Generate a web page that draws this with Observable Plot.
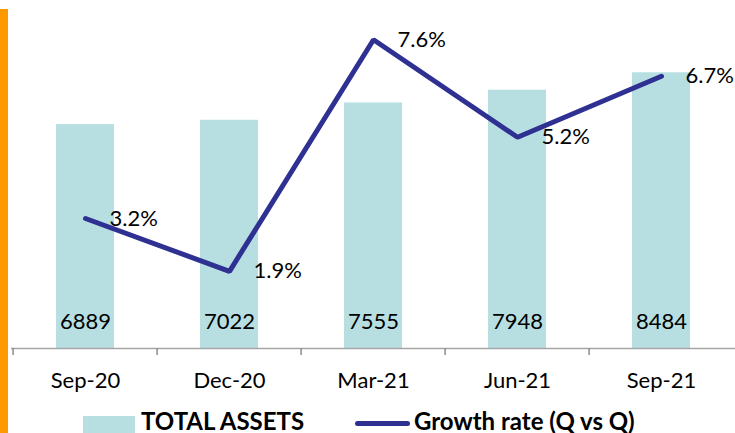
<!DOCTYPE html>
<html>
<head>
<meta charset="utf-8">
<script src="https://cdn.jsdelivr.net/npm/d3@7"></script>
<script src="https://cdn.jsdelivr.net/npm/@observablehq/plot@0.6"></script>
<style>
  html, body { margin: 0; padding: 0; background: #fff; overflow: hidden; }
  #wrap { position: relative; width: 735px; height: 433px; font-family: Lato, "Open Sans", sans-serif; }
  #orange { position: absolute; left: 0; top: 9px; width: 8px; height: 424px; background: #FF9900; }
  .layer { position: absolute; left: 0; top: 0; }
  #legend { position: absolute; left: 0; top: 400px; width: 735px; height: 33px; overflow: hidden; }
  .sw { position: absolute; }
  .lt { position: absolute; font-weight: bold; font-size: 24px; line-height: 24px; color: #000; white-space: nowrap; }
</style>
</head>
<body>
<div id="wrap">
  <div id="orange"></div>
  <div id="bars" class="layer"></div>
  <div id="line" class="layer"></div>
  <div id="legend">
    <div class="sw" style="left:83px;top:16px;width:52px;height:20px;background:#B7DEE1"></div>
    <div class="lt" style="left:141px;top:9px">TOTAL ASSETS</div>
    <div class="sw" style="left:355px;top:21px;width:55px;height:5px;border-radius:3px;background:#2E3192"></div>
    <div class="lt" style="left:414px;top:9px">Growth rate (Q vs Q)</div>
  </div>
</div>
<script>
const categories = ["Sep-20", "Dec-20", "Mar-21", "Jun-21", "Sep-21"];
const totalAssets = [6889, 7022, 7555, 7948, 8484];
const growthRate = [3.2, 1.9, 7.6, 5.2, 6.7];

const W = 735, H = 400, mT = 23, mB = 52, mL = 11, mR = 0;
const font = "Lato, 'Open Sans', sans-serif";
const bars = categories.map((c, i) => ({cat: c, v: totalAssets[i]}));
const growth = categories.map((c, i) => ({cat: c, g: growthRate[i]}));
const halfBand = (W - mL - mR) / categories.length / 2;
const xOpts = {domain: categories, paddingInner: 0.6, paddingOuter: 0.3, axis: null, label: null};

const p1 = Plot.plot({
  width: W, height: H, marginTop: mT, marginBottom: mB, marginLeft: mL, marginRight: mR,
  style: {fontFamily: font, color: "#000", background: "transparent", overflow: "visible"},
  x: xOpts,
  y: {domain: [0, 10000], axis: null},
  marks: [
    Plot.barY(bars, {x: "cat", y: "v", fill: "#B7DEE1"}),
    Plot.ruleY([0], {stroke: "#A6A6A6", strokeWidth: 1.5}),
    Plot.axisX({tickSize: 7, tickFormat: () => "", dx: -halfBand, stroke: "#8C8C8C", strokeWidth: 1.5, label: null}),
    Plot.axisX({tickSize: 0, tickPadding: 24, fontSize: 22, fill: "#000", label: null}),
    Plot.text(bars, {x: "cat", y: 0, text: d => String(d.v), dy: -27, fontSize: 22, fill: "#000"})
  ]
});
document.getElementById("bars").appendChild(p1);

const p2 = Plot.plot({
  width: W, height: H, marginTop: mT, marginBottom: mB, marginLeft: mL, marginRight: mR,
  style: {fontFamily: font, color: "#000", background: "transparent", overflow: "visible"},
  x: xOpts,
  y: {domain: [0, 8], axis: null},
  marks: [
    Plot.line(growth, {x: "cat", y: "g", stroke: "#2E3192", strokeWidth: 5, strokeLinejoin: "miter", strokeLinecap: "round"}),
    Plot.text(growth, {x: "cat", y: "g", text: d => d.g.toFixed(1) + "%", textAnchor: "start", dx: 24, fontSize: 22, fill: "#000"})
  ]
});
document.getElementById("line").appendChild(p2);
</script>
</body>
</html>
